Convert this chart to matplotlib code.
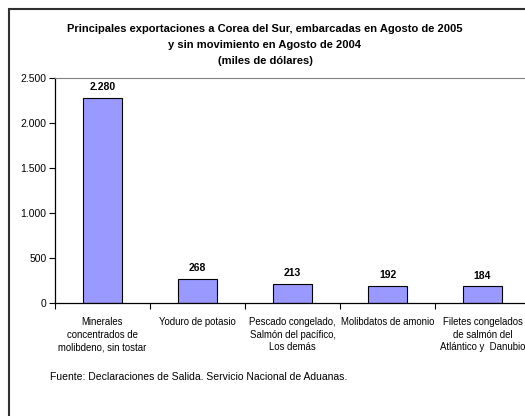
import matplotlib.pyplot as plt
from matplotlib.patches import Rectangle

plt.rcParams['font.family'] = ['Liberation Sans', 'DejaVu Sans']

categorias = ["Minerales\nconcentrados de\nmolibdeno, sin tostar",
              "Yoduro de potasio",
              "Pescado congelado,\nSalmón del pacífico,\nLos demás",
              "Molibdatos de amonio",
              "Filetes congelados\nde salmón del\nAtlántico y  Danubio"]
valores = [2280, 268, 213, 192, 184]
etiquetas = ["2.280", "268", "213", "192", "184"]
yticks = [0, 500, 1000, 1500, 2000, 2500]
ytick_labels = ["0", "500", "1.000", "1.500", "2.000", "2.500"]

fig = plt.figure(figsize=(5.25, 4.16), dpi=100)
ax = fig.add_axes([55/525, 1 - 303/416, 475/525, (303 - 78)/416])

x = range(len(valores))
ax.bar(x, valores, width=0.41, color="#9999FF", edgecolor="#000000", linewidth=0.8)
for xi, v, t in zip(x, valores, etiquetas):
    ax.text(xi, v + 60, t, ha="center", va="bottom", fontsize=7.5, fontweight="bold")

ax.set_xlim(-0.5, len(valores) - 0.5)
ax.set_ylim(0, 2500)
ax.set_yticks(yticks)
ax.set_yticklabels(ytick_labels, fontsize=7.5)
ax.set_xticks([i + 0.5 for i in range(-1, len(valores))], minor=False)
ax.set_xticklabels([])
ax.set_xticks(list(x), minor=True)
ax.set_xticklabels(categorias, minor=True, fontsize=6.9, linespacing=1.35)
ax.tick_params(axis="x", which="minor", length=0, pad=10)
ax.tick_params(axis="x", which="major", length=4, direction="out", width=0.8)
ax.tick_params(axis="y", length=4, width=0.8, pad=2)

ax.spines["top"].set_color("#808080")
ax.spines["right"].set_visible(False)
ax.spines["left"].set_linewidth(0.9)
ax.spines["bottom"].set_linewidth(0.9)

fig.text(265/525, 1 - 29/416, "Principales exportaciones a Corea del Sur, embarcadas en Agosto de 2005",
         ha="center", va="center", fontsize=8, fontweight="bold")
fig.text(265/525, 1 - 45/416, "y sin movimiento en Agosto de 2004",
         ha="center", va="center", fontsize=8, fontweight="bold")
fig.text(265/525, 1 - 61/416, "(miles de dólares)",
         ha="center", va="center", fontsize=8, fontweight="bold")
fig.text(50/525, 1 - 377/416, "Fuente: Declaraciones de Salida. Servicio Nacional de Aduanas.",
         ha="left", va="center", fontsize=7.5)

fig.patches.append(Rectangle((9/525, -0.1), 1.2, 1.1 - 9/416, transform=fig.transFigure,
                             fill=False, edgecolor="#303030", linewidth=1.5))

fig.savefig("out.png", dpi=100)
